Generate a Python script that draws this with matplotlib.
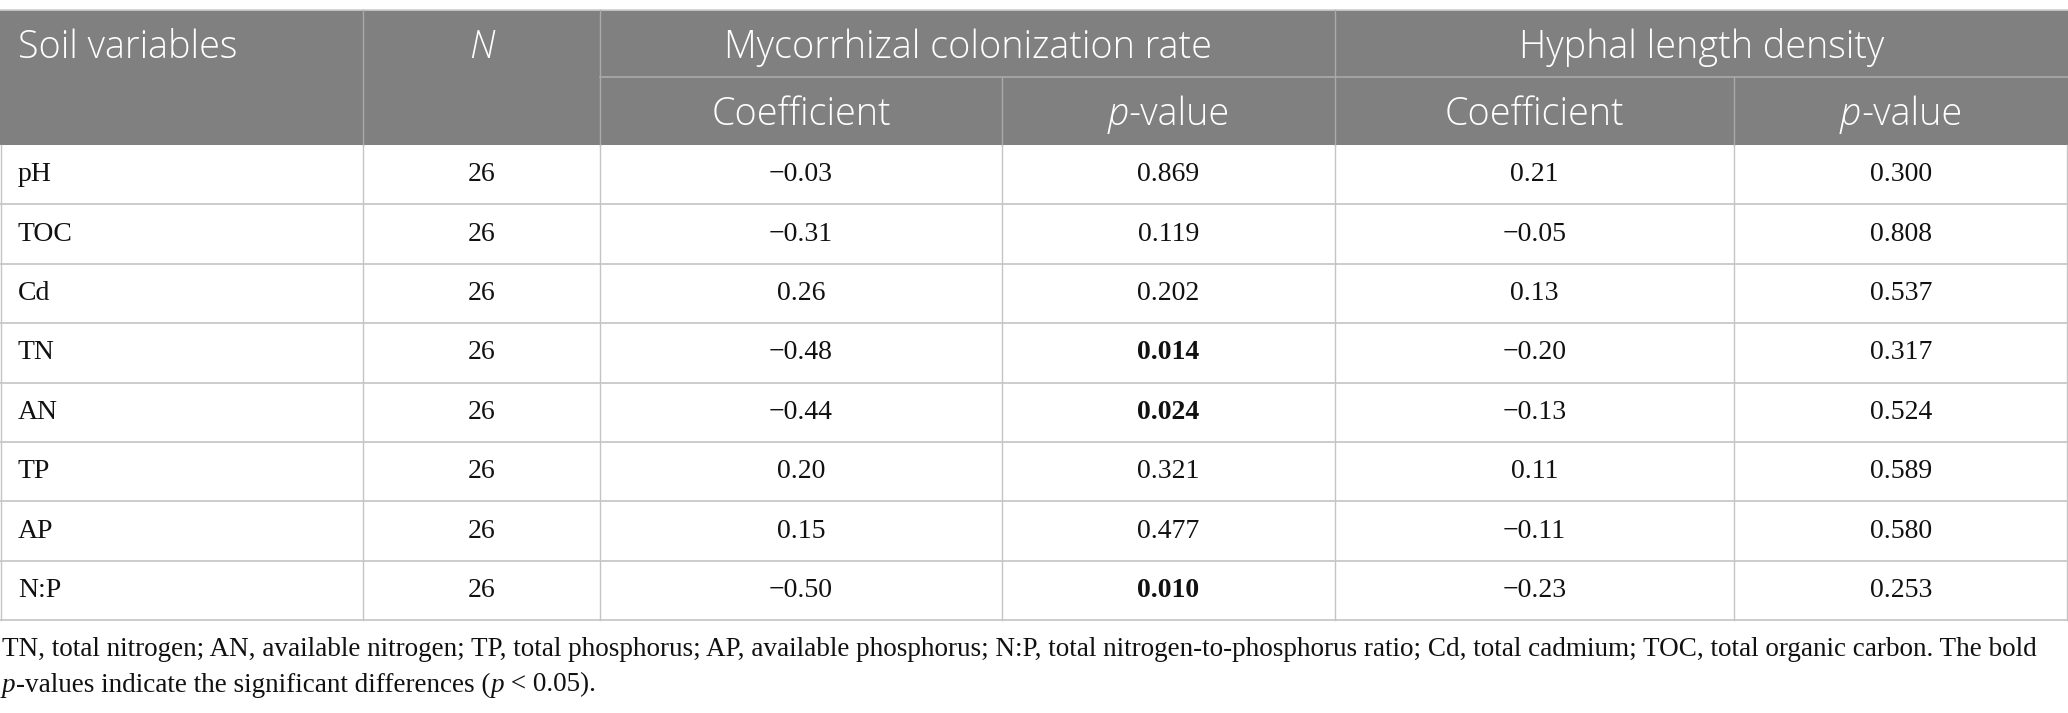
import matplotlib
matplotlib.use("Agg")
import matplotlib.pyplot as plt

# === Table data ===
variables = ["pH", "TOC", "Cd", "TN", "AN", "TP", "AP", "N:P"]
n_vals = [26, 26, 26, 26, 26, 26, 26, 26]
myc_coef = [-0.03, -0.31, 0.26, -0.48, -0.44, 0.20, 0.15, -0.50]
myc_p = [0.869, 0.119, 0.202, 0.014, 0.024, 0.321, 0.477, 0.010]
hyp_coef = [0.21, -0.05, 0.13, -0.20, -0.13, 0.11, -0.11, -0.23]
hyp_p = [0.300, 0.808, 0.537, 0.317, 0.524, 0.589, 0.580, 0.253]

group_labels = ["Mycorrhizal colonization rate", "Hyphal length density"]
sub_labels = ["Coefficient", "p-value"]
footnote_1 = ("TN, total nitrogen; AN, available nitrogen; TP, total phosphorus; "
              "AP, available phosphorus; N:P, total nitrogen-to-phosphorus ratio; "
              "Cd, total cadmium; TOC, total organic carbon. The bold")

# === Layout (pixels) ===
W, H = 2068, 713
cols = [0, 363, 600, 1002, 1335, 1734, W]
top, split, head_bot = 10, 77, 145
row_h = 59.4
n_rows = len(variables)
table_bot = head_bot + row_h * n_rows

HEAD_BG = "#808080"
HEAD_LINE = "#a9a9a9"
GRID = "#c4c4c4"
SANS = "Open Sans"
SERIF = "Liberation Serif"
HEAD_FS = 27.2
HEAD_W = "light"
BODY_FS = 20
NOTE_FS = 19.5

fig = plt.figure(figsize=(W / 100, H / 100), dpi=100)
ax = fig.add_axes([0, 0, 1, 1])
ax.set_xlim(0, W)
ax.set_ylim(H, 0)
ax.axis("off")
renderer = fig.canvas.get_renderer()


def runs(x, y, parts, ha="left", **kw):
    # draw a list of (text, style, weight) pieces side by side
    items = []
    for s, style, weight in parts:
        t = ax.text(0, y, s, fontstyle=style, fontweight=weight, va="center", **kw)
        items.append(t)
    widths = [t.get_window_extent(renderer).width for t in items]
    total = sum(widths)
    x0 = x - total / 2 if ha == "center" else x
    for t, w in zip(items, widths):
        t.set_x(x0)
        x0 += w


def fmt(v, nd):
    return f"{v:.{nd}f}".replace("-", "\u2212")


# header background
ax.add_patch(plt.Rectangle((0, top), W, head_bot - top, color=HEAD_BG, lw=0))
ax.plot([0, W], [top, top], color="#cfcfcf", lw=1.2)
ax.plot([cols[2], W], [split, split], color=HEAD_LINE, lw=1.2)
for c in [cols[1], cols[2], cols[4]]:
    ax.plot([c, c], [top, head_bot], color=HEAD_LINE, lw=1.0)
for c in [cols[3], cols[5]]:
    ax.plot([c, c], [split, head_bot], color=HEAD_LINE, lw=1.0)

# header text
hy1 = (top + split) / 2 + 4
hy2 = (split + head_bot) / 2 + 4
head = dict(family=SANS, fontsize=HEAD_FS, color="white", va="center", fontweight=HEAD_W)
ax.text(18, hy1, "Soil variables", **head)
ax.text((cols[1] + cols[2]) / 2, hy1, "N", fontstyle="italic", ha="center", **head)
for g, lab in enumerate(group_labels):
    ax.text((cols[2 + 2 * g] + cols[4 + 2 * g]) / 2, hy1, lab, ha="center", **head)
    ax.text((cols[2 + 2 * g] + cols[3 + 2 * g]) / 2, hy2, sub_labels[0], ha="center", **head)
    runs((cols[3 + 2 * g] + cols[4 + 2 * g]) / 2, hy2,
         [("p", "italic", HEAD_W), ("-value", "normal", HEAD_W)], ha="center",
         family=SANS, fontsize=HEAD_FS, color="white")

# body grid
for i in range(1, n_rows + 1):
    y = head_bot + row_h * i
    ax.plot([0, W], [y, y], color=GRID, lw=1.2)
for c in cols:
    cc = min(max(c, 0.6), W - 0.6)
    ax.plot([cc, cc], [head_bot, table_bot], color=GRID, lw=1.0)

# body text
body = dict(family=SERIF, fontsize=BODY_FS, color="#111111", va="center")
for i, var in enumerate(variables):
    y = head_bot + row_h * (i + 0.5)
    ax.text(18, y, var, **body)
    ax.text((cols[1] + cols[2]) / 2, y, str(n_vals[i]), ha="center", **body)
    ax.text((cols[2] + cols[3]) / 2, y, fmt(myc_coef[i], 2), ha="center", **body)
    ax.text((cols[3] + cols[4]) / 2, y, fmt(myc_p[i], 3), ha="center",
            fontweight="bold" if myc_p[i] < 0.05 else "normal", **body)
    ax.text((cols[4] + cols[5]) / 2, y, fmt(hyp_coef[i], 2), ha="center", **body)
    ax.text((cols[5] + cols[6]) / 2, y, fmt(hyp_p[i], 3), ha="center",
            fontweight="bold" if hyp_p[i] < 0.05 else "normal", **body)

# footnote
note = dict(family=SERIF, fontsize=NOTE_FS, color="#111111")
runs(2, 650, [(footnote_1, "normal", "normal")], **note)
runs(2, 685, [("p", "italic", "normal"),
              ("-values indicate the significant differences (", "normal", "normal"),
              ("p", "italic", "normal"),
              (" < 0.05).", "normal", "normal")], **note)

fig.savefig("out.png", dpi=100)
